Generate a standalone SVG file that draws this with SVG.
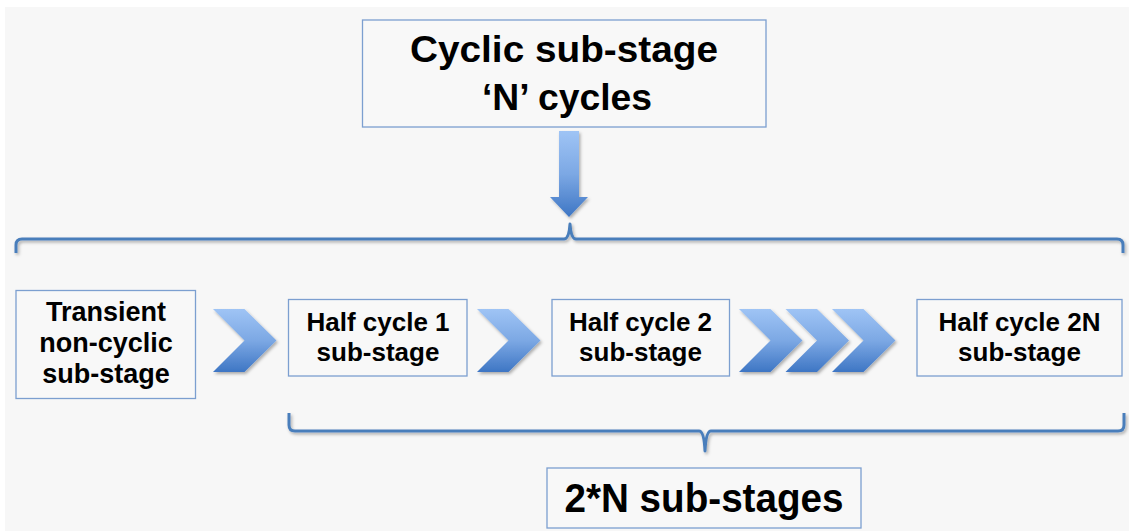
<svg xmlns="http://www.w3.org/2000/svg" width="1129" height="531" viewBox="0 0 1129 531">
<defs>
<linearGradient id="blueGrad" x1="0" y1="0" x2="0" y2="1">
<stop offset="0" stop-color="#9fc4f5"/>
<stop offset="0.5" stop-color="#7ca8e4"/>
<stop offset="1" stop-color="#3e76c4"/>
</linearGradient>
<filter id="shadow" x="-20%" y="-20%" width="140%" height="140%">
<feDropShadow dx="1.5" dy="2" stdDeviation="1.5" flood-color="#000" flood-opacity="0.3"/>
</filter>
<style>
.box{fill:#f8f8f8;stroke:#7c9fd0;stroke-width:1.3}
.t{font-family:"Liberation Sans",Arial,sans-serif;font-weight:bold;fill:#000;text-anchor:middle}
.big{font-size:36px}
.mid{font-size:26px}
.tr{font-size:27px}
.bot{font-size:40px}
.arrow{fill:url(#blueGrad);filter:url(#shadow)}
.brace{fill:none;stroke:#4a7ebb;stroke-width:3;stroke-linejoin:round;filter:url(#shadow)}
</style>
</defs>
<rect x="0" y="0" width="1129" height="531" fill="#ffffff"/>
<rect x="5" y="7" width="1124" height="524" fill="#f7f7f7"/>

<g id="node-cyclic">
<rect class="box" x="362.5" y="20" width="403.5" height="107"/>
<text class="t big" x="564" y="62" textLength="308" lengthAdjust="spacingAndGlyphs">Cyclic sub-stage</text>
<text class="t big" x="567" y="110" textLength="170" lengthAdjust="spacingAndGlyphs">‘N’ cycles</text>
</g>

<g id="node-transient">
<rect class="box" x="16" y="290.5" width="179.5" height="108"/>
<text class="t tr" x="106" y="321">Transient</text>
<text class="t tr" x="106" y="352">non-cyclic</text>
<text class="t tr" x="106" y="383">sub-stage</text>
</g>

<g id="node-half1">
<rect class="box" x="288.5" y="299.5" width="178.5" height="76.5"/>
<text class="t mid" x="378" y="331">Half cycle 1</text>
<text class="t mid" x="378" y="361">sub-stage</text>
</g>

<g id="node-half2">
<rect class="box" x="552" y="299.5" width="177.5" height="76.5"/>
<text class="t mid" x="640.5" y="331">Half cycle 2</text>
<text class="t mid" x="640.5" y="361">sub-stage</text>
</g>

<g id="node-half2n">
<rect class="box" x="917" y="299.5" width="205" height="76.5"/>
<text class="t mid" x="1019.5" y="331">Half cycle 2N</text>
<text class="t mid" x="1019.5" y="361">sub-stage</text>
</g>

<g id="node-total">
<rect class="box" x="547" y="468" width="314" height="60"/>
<text class="t bot" x="704" y="512" textLength="279" lengthAdjust="spacingAndGlyphs">2*N sub-stages</text>
</g>

<g id="connectors">
<polygon class="arrow" points="559,131 579,131 579,197 588,197 569,217 550,197 559,197"/>
<path class="brace" d="M16,253 L16,245 Q16,239 22,239 L564,239 Q569,239 570,224 Q571,239 576,239 L1117,239 Q1123,239 1123,245 L1123,253"/>
<polygon class="arrow" points="213,309 244.5,309 276.5,340.5 244.5,372 213,372 244.5,340.5"/>
<polygon class="arrow" points="477,309 508.5,309 540.5,340.5 508.5,372 477,372 508.5,340.5"/>
<polygon class="arrow" points="739,309 770.5,309 802.5,340.5 770.5,372 739,372 770.5,340.5"/>
<polygon class="arrow" points="785.5,309 817,309 849,340.5 817,372 785.5,372 817,340.5"/>
<polygon class="arrow" points="832,309 863.5,309 895.5,340.5 863.5,372 832,372 863.5,340.5"/>
<path class="brace" d="M289,413 L289,425 Q289,431 295,431 L699,431 Q704,431 705,451 Q706,431 711,431 L1118,431 Q1124,431 1124,425 L1124,413"/>
</g>
</svg>
